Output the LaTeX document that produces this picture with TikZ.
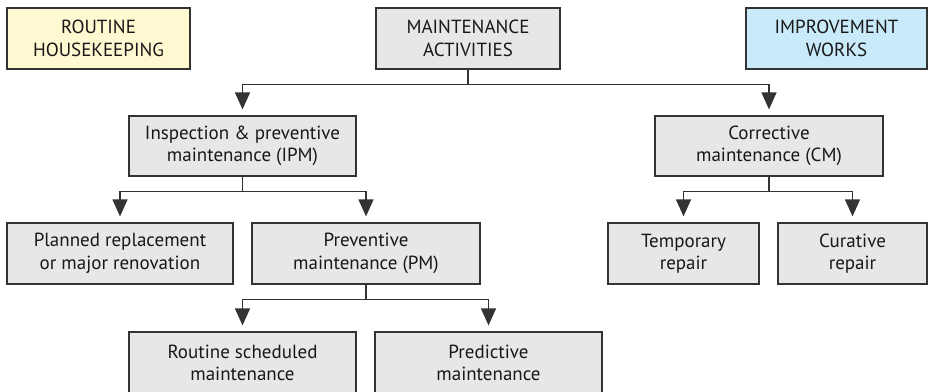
\documentclass[tikz,border=0pt]{standalone}
\usepackage{fontspec}
\setmainfont{PT Sans}
\usetikzlibrary{arrows.meta}
\definecolor{boxgray}{HTML}{E6E7E8}
\definecolor{boxyellow}{HTML}{FFF9D2}
\definecolor{boxblue}{HTML}{C8EAF9}
\definecolor{edge}{HTML}{333333}
\definecolor{txt}{HTML}{1A1718}
\tikzset{
  box/.style={draw=edge, line width=1.2pt, fill=boxgray, align=center, inner sep=0pt,
    font=\fontsize{19}{22.5}\selectfont, text=txt},
  conn/.style={draw=edge, line width=1.2pt},
  arr/.style={conn, -{Triangle[length=17pt,width=15pt]}, shorten >=6pt},
}
\begin{document}
\begin{tikzpicture}[x=1pt,y=-1pt]
\useasboundingbox (0,0) rectangle (928,391);
\clip (0,0) rectangle (928,391);
\node[box, fill=boxyellow, minimum width=183pt, minimum height=61pt] (rh) at (98.5,38.5) {ROUTINE\\HOUSEKEEPING};
\node[box, minimum width=184pt, minimum height=61pt] (ma) at (468,38.5) {MAINTENANCE\\ACTIVITIES};
\node[box, fill=boxblue, minimum width=181pt, minimum height=61pt] (iw) at (836.5,38.5) {IMPROVEMENT\\WORKS};
\node[box, minimum width=227pt, minimum height=60pt] (ipm) at (242.5,146) {Inspection \& preventive\\maintenance (IPM)};
\node[box, minimum width=228pt, minimum height=60pt] (cm) at (769,146) {Corrective\\maintenance (CM)};
\node[box, minimum width=226pt, minimum height=61pt] (pr) at (120,253.5) {Planned replacement\\or major renovation};
\node[box, minimum width=228pt, minimum height=61pt] (pm) at (366,253.5) {Preventive\\maintenance (PM)};
\node[box, minimum width=151pt, minimum height=61pt] (tr) at (683.5,253.5) {Temporary\\repair};
\node[box, minimum width=149pt, minimum height=61pt] (cr) at (852.5,253.5) {Curative\\repair};
\node[box, minimum width=227pt, minimum height=62pt] (rs) at (242.5,363) {Routine scheduled\\maintenance};
\node[box, minimum width=227pt, minimum height=62pt] (ps) at (488.5,363) {Predictive\\maintenance};
\draw[arr] (ma.south) -- ++(0,15) -| (ipm.north);
\draw[arr] (ma.south) -- ++(0,15) -| (cm.north);
\draw[arr] (ipm.south) -- ++(0,15) -| (pr.north);
\draw[arr] (ipm.south) -- ++(0,15) -| (pm.north);
\draw[arr] (pm.south) -- ++(0,15) -| (rs.north);
\draw[arr] (pm.south) -- ++(0,15) -| (ps.north);
\draw[arr] (cm.south) -- ++(0,15) -| (tr.north);
\draw[arr] (cm.south) -- ++(0,15) -| (cr.north);
\end{tikzpicture}
\end{document}
